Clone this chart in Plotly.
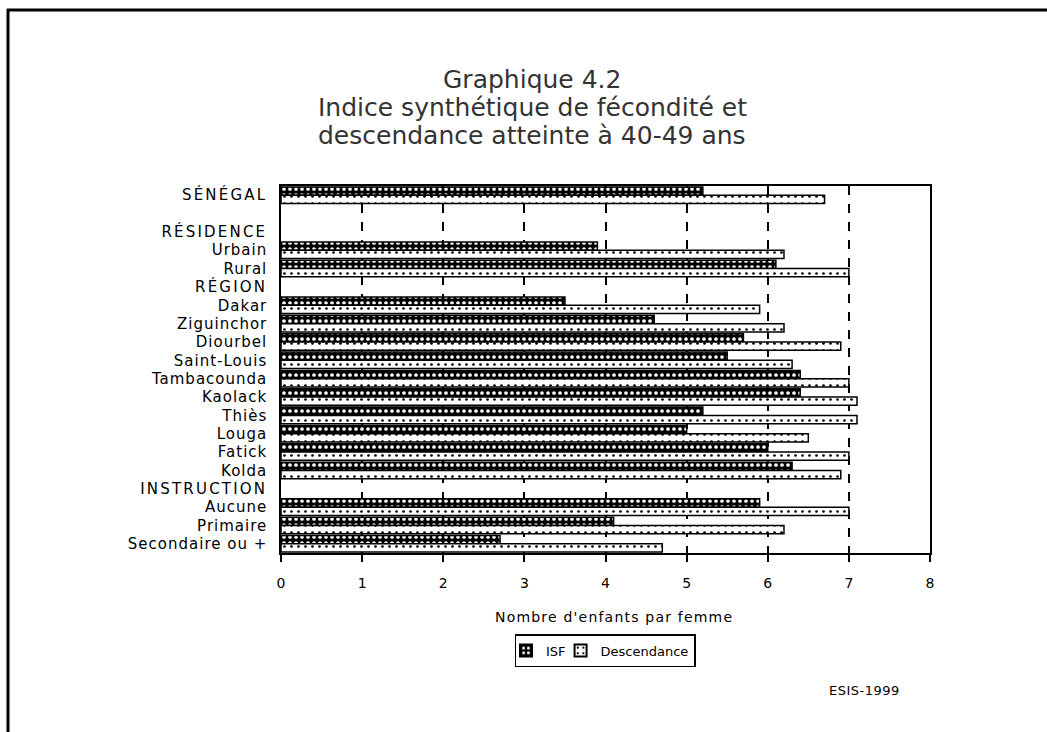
import plotly.graph_objects as go

categories = ["SÉNÉGAL", " ", "RÉSIDENCE", "Urbain", "Rural", "RÉGION",
              "Dakar", "Ziguinchor", "Diourbel", "Saint-Louis", "Tambacounda",
              "Kaolack", "Thiès", "Louga", "Fatick", "Kolda",
              "INSTRUCTION", "Aucune", "Primaire", "Secondaire ou +"]
headers = {"SÉNÉGAL", "RÉSIDENCE", "RÉGION", "INSTRUCTION"}
isf = [5.2, None, None, 3.9, 6.1, None,
       3.5, 4.6, 5.7, 5.5, 6.4, 6.4, 5.2, 5.0, 6.0, 6.3,
       None, 5.9, 4.1, 2.7]
descendance = [6.7, None, None, 6.2, 7.0, None,
               5.9, 6.2, 6.9, 6.3, 7.0, 7.1, 7.1, 6.5, 7.0, 6.9,
               None, 7.0, 6.2, 4.7]
x_ticks = [0, 1, 2, 3, 4, 5, 6, 7, 8]

rows = list(range(len(categories)))
FONT = "DejaVu Sans"


def spaced(t, sp):
    return f"<span style='letter-spacing:{sp}px'>{t}</span>"


tick_text = [spaced(c, 2.2 if c in headers else 1) for c in categories]

fig = go.Figure()
fig.add_trace(go.Bar(
    y=rows, x=isf, orientation="h", name="ISF",
    marker=dict(color="black", line=dict(color="black", width=1.5),
                pattern=dict(shape=".", bgcolor="black", fgcolor="white",
                             size=6, solidity=0.3, fillmode="replace")),
))
fig.add_trace(go.Bar(
    y=rows, x=descendance, orientation="h", name="Descendance",
    marker=dict(color="white", line=dict(color="black", width=1.5),
                pattern=dict(shape=".", bgcolor="white", fgcolor="black",
                             size=7, solidity=0.12, fillmode="replace")),
))

L, R, T, B = 281, 930, 186, 553
W, H = 1047, 732
pw, ph = R - L, B - T


def px(x):
    return (x - L) / pw


def py(y):
    return (B - y) / ph


shapes = [
    dict(type="line", xref="paper", yref="paper", x0=px(7), x1=px(1047),
         y0=py(10), y1=py(10), line=dict(color="black", width=3)),
    dict(type="line", xref="paper", yref="paper", x0=px(8), x1=px(8),
         y0=py(9), y1=py(732), line=dict(color="black", width=3)),
]

title_lines = ["Graphique 4.2", "Indice synthétique de fécondité et",
               "descendance atteinte à 40-49 ans"]
title_y = [80, 108, 135]
annotations = []
for t, yy in zip(title_lines, title_y):
    annotations.append(dict(text=t, xref="paper", yref="paper", x=px(532), y=py(yy),
                            showarrow=False, xanchor="center", yanchor="middle",
                            font=dict(family=FONT, size=25, color="#333")))
annotations.append(dict(text=spaced("Nombre d'enfants par femme", 1.2), xref="paper",
                        yref="paper", x=px(614), y=py(617), showarrow=False,
                        xanchor="center", yanchor="middle",
                        font=dict(family=FONT, size=14, color="black")))
annotations.append(dict(text=spaced("ESIS-1999", 0.5), xref="paper", yref="paper",
                        x=px(864), y=py(690), showarrow=False, xanchor="center",
                        yanchor="middle", font=dict(family=FONT, size=13, color="black")))

fig.update_layout(
    width=W, height=H,
    margin=dict(l=L, r=W - R, t=T, b=H - B, autoexpand=False),
    paper_bgcolor="white", plot_bgcolor="white",
    barmode="group", bargap=0.1, bargroupgap=0.0,
    showlegend=True,
    legend=dict(orientation="h", x=px(605), xanchor="center", y=py(634), yanchor="top",
                bordercolor="black", borderwidth=1.5, bgcolor="white",
                font=dict(family=FONT, size=13, color="black"),
                itemsizing="constant", traceorder="normal", tracegroupgap=0,
                itemwidth=30, indentation=-10),
    shapes=shapes, annotations=annotations,
    font=dict(family=FONT, color="black"),
)
fig.update_xaxes(range=[0, 8], tickvals=x_ticks, ticktext=[str(v) for v in x_ticks],
                 showgrid=True, griddash="dash", gridcolor="black", gridwidth=1.5,
                 zeroline=False, showline=True, mirror=True, linecolor="black",
                 linewidth=1.5, ticks="outside", ticklen=7, tickwidth=1.5,
                 tickcolor="black", ticklabelstandoff=9,
                 tickfont=dict(family=FONT, size=14, color="black"),
                 layer="above traces", fixedrange=True)
fig.update_yaxes(range=[len(categories) - 0.5, -0.5], tickvals=rows, ticktext=tick_text,
                 showgrid=False, zeroline=False, showline=True, mirror=True,
                 linecolor="black", linewidth=1.5, ticks="", ticklabelstandoff=9,
                 tickfont=dict(family=FONT, size=15, color="black"), fixedrange=True)

fig.write_html("out.html", config={"displayModeBar": False},
               post_script="document.body.style.margin='0px';")
